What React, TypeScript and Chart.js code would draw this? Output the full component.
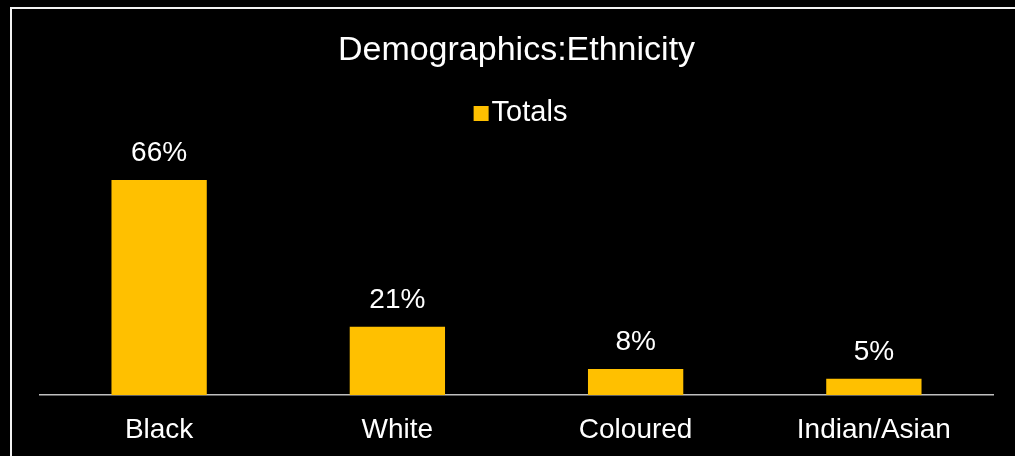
import React, { useEffect, useRef } from "react";
import { Chart, registerables } from "chart.js";

Chart.register(...registerables);

const categories = ["Black", "White", "Coloured", "Indian/Asian"];
const totals = [66, 21, 8, 5];
const seriesName = "Totals";
const chartTitle = "Demographics:Ethnicity";

const FONT = "'Liberation Sans', Arial, sans-serif";
const BAR_COLOR = "#FFC000";

const dataLabelPlugin = {
  id: "dataLabels",
  afterDatasetsDraw(chart: any) {
    const ctx = chart.ctx;
    const meta = chart.getDatasetMeta(0);
    ctx.save();
    ctx.fillStyle = "#ffffff";
    ctx.font = `28px ${FONT}`;
    ctx.textAlign = "center";
    ctx.textBaseline = "alphabetic";
    meta.data.forEach((el: any, i: number) => {
      ctx.fillText(`${totals[i]}%`, el.x, el.y - 19);
    });
    ctx.restore();
  },
};

const legendPlugin = {
  id: "customLegend",
  afterDraw(chart: any) {
    const ctx = chart.ctx;
    const area = chart.chartArea;
    ctx.save();
    ctx.font = `29px ${FONT}`;
    const tw = ctx.measureText(seriesName).width;
    const box = 15;
    const gap = 3;
    const total = box + gap + tw;
    const cx = (area.left + area.right) / 2 + 4;
    const x0 = cx - total / 2;
    ctx.fillStyle = BAR_COLOR;
    ctx.fillRect(x0, 106, box, box);
    ctx.fillStyle = "#ffffff";
    ctx.textAlign = "left";
    ctx.textBaseline = "alphabetic";
    ctx.fillText(seriesName, x0 + box + gap, 121);
    ctx.restore();
  },
};

export default function App() {
  const ref = useRef<HTMLCanvasElement>(null);

  useEffect(() => {
    document.body.style.margin = "0";
    document.body.style.background = "#000";
    const chart = new Chart(ref.current!, {
      type: "bar",
      data: {
        labels: categories,
        datasets: [
          {
            label: seriesName,
            data: totals,
            backgroundColor: BAR_COLOR,
            borderWidth: 0,
            barPercentage: 0.4,
            categoryPercentage: 1,
          },
        ],
      },
      options: {
        responsive: false,
        animation: false,
        devicePixelRatio: 1,
        layout: { padding: { left: 40, right: 22, top: 0, bottom: 0 } },
        plugins: {
          legend: { display: false },
          tooltip: { enabled: false },
          title: {
            display: true,
            text: chartTitle,
            color: "#ffffff",
            font: { family: FONT, size: 34, weight: "normal" },
            padding: { top: 30, bottom: 67 },
          },
        },
        scales: {
          x: {
            grid: { display: false, drawTicks: false },
            border: { display: true, color: "#bfbfbf", width: 1.5 },
            ticks: {
              color: "#ffffff",
              font: { family: FONT, size: 28 },
              padding: 18,
              maxRotation: 0,
            },
            afterFit(scale: any) {
              scale.height = 61;
            },
          },
          y: {
            display: false,
            min: 0,
            max: 79,
          },
        },
      },
      plugins: [dataLabelPlugin, legendPlugin],
    });
    return () => chart.destroy();
  }, []);

  return (
    <div
      style={{
        position: "fixed",
        left: 0,
        top: 0,
        width: 1015,
        height: 456,
        background: "#000",
        overflow: "hidden",
      }}
    >
      <div
        style={{
          position: "absolute",
          left: 10,
          top: 7,
          width: 1040,
          height: 480,
          border: "2px solid #f2f2f2",
          boxSizing: "border-box",
        }}
      />
      <canvas
        ref={ref}
        width={1015}
        height={456}
        style={{ position: "absolute", left: 0, top: 0 }}
      />
    </div>
  );
}
